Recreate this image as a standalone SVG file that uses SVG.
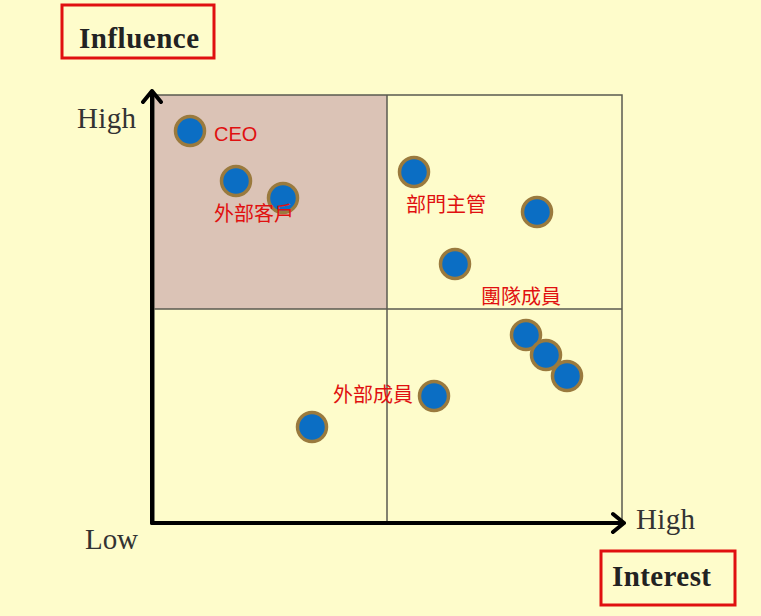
<svg xmlns="http://www.w3.org/2000/svg" width="761" height="616" viewBox="0 0 761 616">
<style>
.grid{fill:none;stroke:#5a5a50;stroke-width:1.5}
.axis{fill:none;stroke:#000;stroke-width:4;stroke-linecap:round;stroke-linejoin:round}
.dot{fill:#0b6ec4;stroke:#9a7a3e;stroke-width:3.5}
.lbl{font-family:"Liberation Sans","Noto Sans CJK TC",sans-serif;font-size:20px;fill:#e01010}
.ax{font-family:"Liberation Serif",serif;font-size:29px;fill:#333}
.title{font-family:"Liberation Serif",serif;font-size:29px;font-weight:bold;fill:#222}
.box{fill:none;stroke:#e01010;stroke-width:3}
</style>
<rect x="0" y="0" width="761" height="616" fill="#fefccb"/>
<g id="quadrants">
<rect x="154" y="95" width="233" height="214" fill="#dbc3b6"/>
<rect class="grid" x="154" y="95" width="468" height="428"/>
<line class="grid" x1="387" y1="95" x2="387" y2="523"/>
<line class="grid" x1="154" y1="309" x2="622" y2="309"/>
</g>
<g id="axes">
<path class="axis" d="M152 523 V91 M143 102 L152 91 L161 102"/>
<path class="axis" d="M152 523 H624 M613 514 L624 523 L613 532"/>
<text class="ax" x="77" y="128" textLength="59">High</text>
<text class="ax" x="85" y="549" textLength="53">Low</text>
<text class="ax" x="636" y="529" textLength="59">High</text>
</g>
<g id="title-influence">
<rect class="box" x="62" y="5" width="152" height="53"/>
<text class="title" x="79" y="48" textLength="120">Influence</text>
</g>
<g id="title-interest">
<rect class="box" x="601" y="551" width="134" height="54"/>
<text class="title" x="612" y="586" textLength="99">Interest</text>
</g>
<g id="stakeholders">
<g id="ceo"><circle class="dot" cx="190" cy="131" r="14.5"/><text class="lbl" x="214" y="141">CEO</text></g>
<g id="client1"><circle class="dot" cx="236" cy="181" r="14.5"/></g>
<g id="client2"><circle class="dot" cx="283" cy="198" r="14.5"/><text class="lbl" x="214" y="221">外部客戶</text></g>
<g id="manager1"><circle class="dot" cx="414" cy="172" r="14.5"/><text class="lbl" x="406" y="212">部門主管</text></g>
<g id="manager2"><circle class="dot" cx="537" cy="212" r="14.5"/></g>
<g id="team0"><circle class="dot" cx="455" cy="264" r="14.5"/><text class="lbl" x="481" y="304">團隊成員</text></g>
<g id="team1"><circle class="dot" cx="526" cy="335" r="14.5"/></g>
<g id="team2"><circle class="dot" cx="546" cy="355" r="14.5"/></g>
<g id="team3"><circle class="dot" cx="567" cy="376" r="14.5"/></g>
<g id="external1"><circle class="dot" cx="434" cy="396" r="14.5"/><text class="lbl" x="333" y="402">外部成員</text></g>
<g id="external2"><circle class="dot" cx="312" cy="427" r="14.5"/></g>
</g>
</svg>
